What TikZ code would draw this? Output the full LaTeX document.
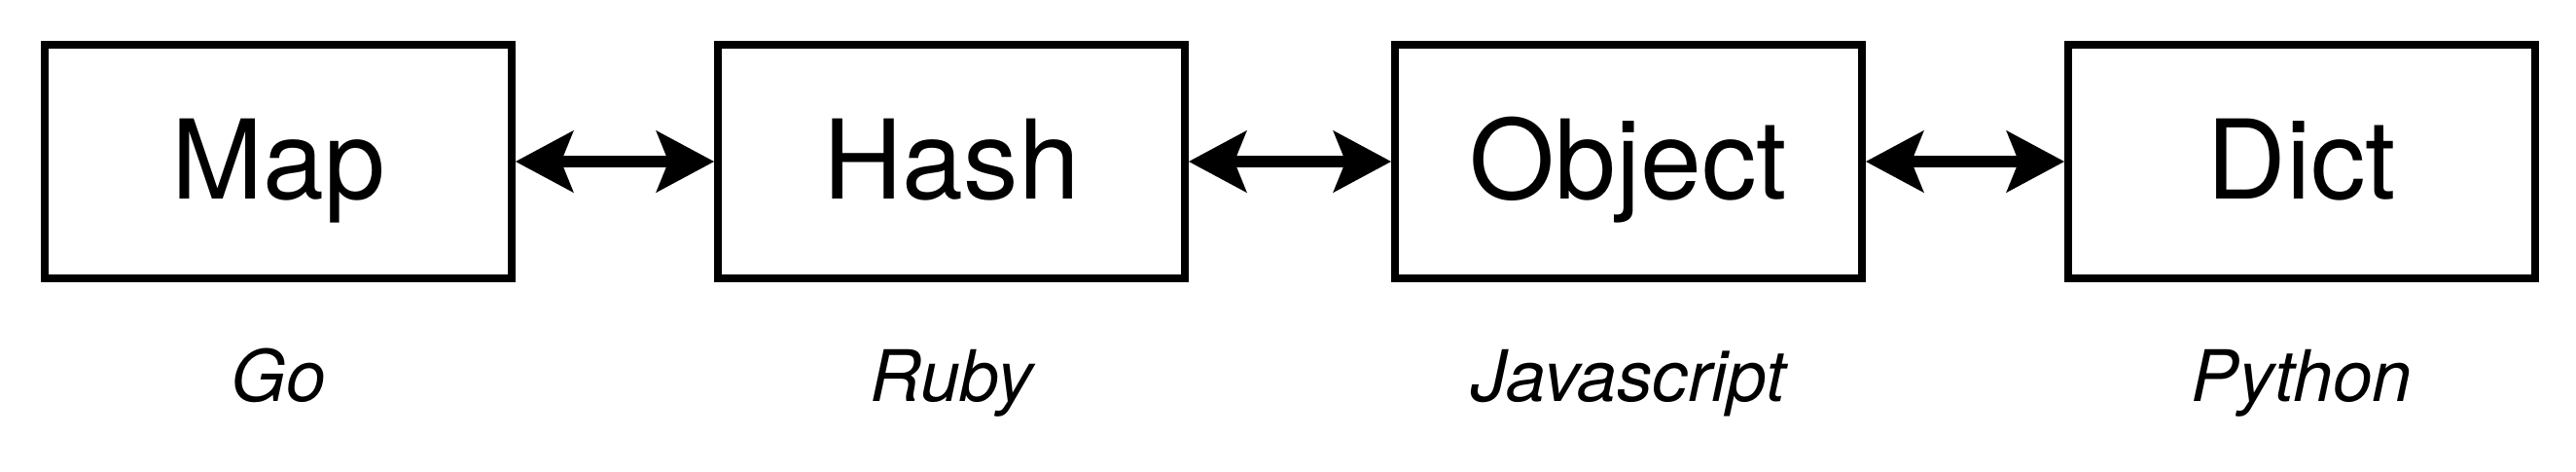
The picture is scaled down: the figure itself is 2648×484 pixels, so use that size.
\documentclass[tikz,border=0pt]{standalone}
\usepackage{fontspec}
\setmainfont{TeX Gyre Heros}
\usetikzlibrary{arrows.meta}
\begin{document}
\begin{tikzpicture}[x=0.5pt,y=-0.5pt,
  box/.style={draw=black, line width=3.8pt, rectangle, minimum width=240pt, minimum height=120pt,
    inner sep=0pt, font=\fontsize{56.5}{62}\selectfont, text height=38pt, text depth=0pt},
  lang/.style={anchor=base, inner sep=0pt, font=\fontsize{36.5}{42}\selectfont\itshape},
  link/.style={line width=5.6pt, {Stealth[length=29.5pt, width=31pt, inset=6pt]}-{Stealth[length=29.5pt, width=31pt, inset=6pt]}}
]
\useasboundingbox (0,0) rectangle (2648,484);
\node[box] (map) at (286,166) {Map};
\node[box] (hash) at (978,166) {Hash};
\node[box] (object) at (1674,166) {Object};
\node[box] (dict) at (2366,166) {Dict};
\node[lang] (go) at (286,412) {Go};
\node[lang] (ruby) at (978,412) {Ruby};
\node[lang] (js) at (1674,412) {Javascript};
\node[lang] (py) at (2366,412) {Python};
\draw[link] (map.east) -- (hash.west);
\draw[link] (hash.east) -- (object.west);
\draw[link] (object.east) -- (dict.west);
\end{tikzpicture}
\end{document}
